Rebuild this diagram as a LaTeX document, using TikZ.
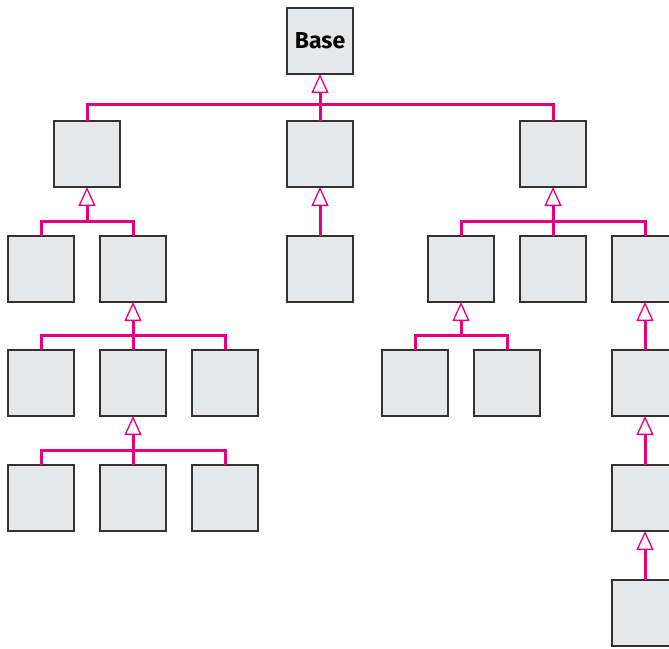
\documentclass[tikz,border=0pt]{standalone}
\usepackage{fontspec}
\newfontfamily\basefont{Fira Sans}
\usetikzlibrary{arrows.meta}
\definecolor{mag}{HTML}{E6007E}
\definecolor{boxfill}{HTML}{E6E7E8}
\definecolor{boxline}{HTML}{333333}
\tikzset{
  cls/.style={draw=boxline, fill=boxfill, line width=1.3pt, minimum width=66pt, minimum height=66pt, inner sep=0pt, outer sep=0pt},
  link/.style={draw=mag, line width=3pt, line join=miter},
  inh/.style={link, -{Triangle[fill=white, length=19pt, width=17pt, line width=1.3pt]}}
}
\begin{document}
\begin{tikzpicture}[x=1pt,y=-1pt]
\clip (0,0) rectangle (669,648);
\useasboundingbox (0,0) rectangle (669,648);
% nodes
\node[cls] (base) at (320,41) {\basefont\bfseries\fontsize{23}{27}\selectfont Base};
\node[cls] (a1) at (87,154) {};
\node[cls] (a2) at (320,154) {};
\node[cls] (a3) at (553,154) {};
\node[cls] (b1) at (41,269) {};
\node[cls] (b2) at (133,269) {};
\node[cls] (b3) at (320,269) {};
\node[cls] (b4) at (461,269) {};
\node[cls] (b5) at (553,269) {};
\node[cls] (b6) at (645,269) {};
\node[cls] (c1) at (41,383) {};
\node[cls] (c2) at (133,383) {};
\node[cls] (c3) at (225,383) {};
\node[cls] (c4) at (415,383) {};
\node[cls] (c5) at (507,383) {};
\node[cls] (c6) at (645,383) {};
\node[cls] (d1) at (41,498) {};
\node[cls] (d2) at (133,498) {};
\node[cls] (d3) at (225,498) {};
\node[cls] (d6) at (645,498) {};
\node[cls] (e6) at (645,613) {};
% bar levels
\coordinate (y0) at (0,104);
\coordinate (y1) at (0,221);
\coordinate (y2) at (0,335);
\coordinate (y3) at (0,450);
% base -> a1 a2 a3
\draw[link] (a1.north) -- (a1 |- y0) -- (a3 |- y0) -- (a3.north);
\draw[link] (a2.north) -- (a2 |- y0);
\draw[inh] (base |- y0) -- (base.south);
% a1 -> b1 b2
\draw[link] (b1.north) -- (b1 |- y1) -- (b2 |- y1) -- (b2.north);
\draw[inh] (a1 |- y1) -- (a1.south);
% a3 -> b4 b5 b6
\draw[link] (b4.north) -- (b4 |- y1) -- (b6 |- y1) -- (b6.north);
\draw[link] (b5.north) -- (b5 |- y1);
\draw[inh] (a3 |- y1) -- (a3.south);
% b2 -> c1 c2 c3
\draw[link] (c1.north) -- (c1 |- y2) -- (c3 |- y2) -- (c3.north);
\draw[link] (c2.north) -- (c2 |- y2);
\draw[inh] (b2 |- y2) -- (b2.south);
% b4 -> c4 c5
\draw[link] (c4.north) -- (c4 |- y2) -- (c5 |- y2) -- (c5.north);
\draw[inh] (b4 |- y2) -- (b4.south);
% c2 -> d1 d2 d3
\draw[link] (d1.north) -- (d1 |- y3) -- (d3 |- y3) -- (d3.north);
\draw[link] (d2.north) -- (d2 |- y3);
\draw[inh] (c2 |- y3) -- (c2.south);
% direct single-child links
\draw[inh] (b3.north) -- (a2.south);
\draw[inh] (c6.north) -- (b6.south);
\draw[inh] (d6.north) -- (c6.south);
\draw[inh] (e6.north) -- (d6.south);
\end{tikzpicture}
\end{document}
